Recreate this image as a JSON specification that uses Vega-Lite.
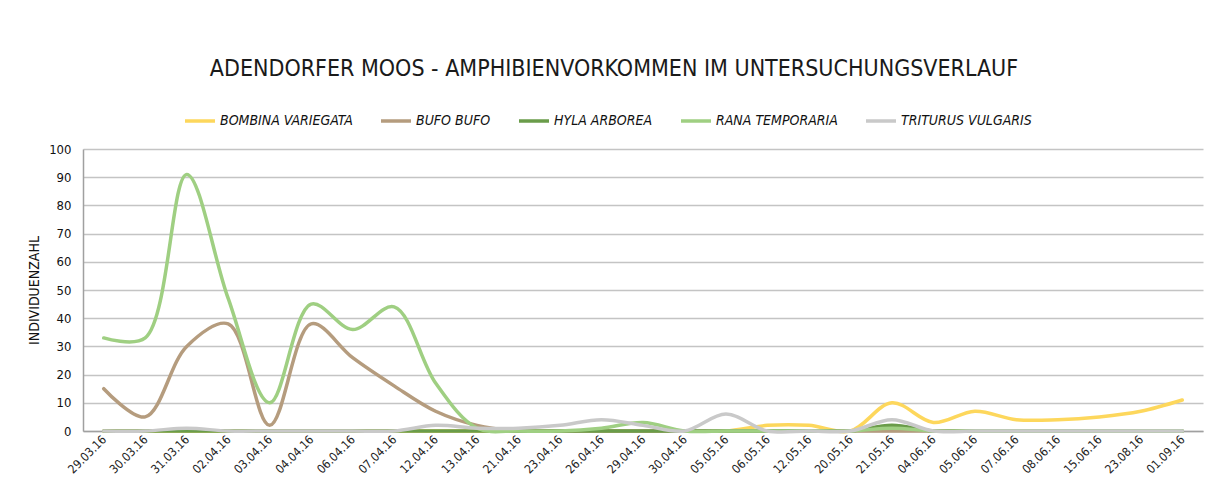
{
  "$schema": "https://vega.github.io/schema/vega-lite/v6.json",
  "autosize": {"type": "none"},
  "width": 1120,
  "height": 282,
  "padding": {"left": 83, "top": 149, "right": 11, "bottom": 57},
  "background": "white",
  "title": {
    "text": "ADENDORFER MOOS - AMPHIBIENVORKOMMEN IM UNTERSUCHUNGSVERLAUF",
    "font": "DejaVu Sans Condensed, Liberation Sans",
    "fontSize": 23,
    "fontWeight": "normal",
    "color": "#1a1a1a",
    "anchor": "middle",
    "dx": -29,
    "offset": 23
  },
  "data": {
    "values": [
      {"d":"29.03.16","i":1,"s":"BOMBINA VARIEGATA","v":0},{"d":"29.03.16","i":1,"s":"BUFO BUFO","v":15},{"d":"29.03.16","i":1,"s":"HYLA ARBOREA","v":0},{"d":"29.03.16","i":1,"s":"RANA TEMPORARIA","v":33},{"d":"29.03.16","i":1,"s":"TRITURUS VULGARIS","v":0},
      {"d":"30.03.16","i":2,"s":"BOMBINA VARIEGATA","v":0},{"d":"30.03.16","i":2,"s":"BUFO BUFO","v":5},{"d":"30.03.16","i":2,"s":"HYLA ARBOREA","v":0},{"d":"30.03.16","i":2,"s":"RANA TEMPORARIA","v":33},{"d":"30.03.16","i":2,"s":"TRITURUS VULGARIS","v":0},
      {"d":"31.03.16","i":3,"s":"BOMBINA VARIEGATA","v":0},{"d":"31.03.16","i":3,"s":"BUFO BUFO","v":30},{"d":"31.03.16","i":3,"s":"HYLA ARBOREA","v":0},{"d":"31.03.16","i":3,"s":"RANA TEMPORARIA","v":91},{"d":"31.03.16","i":3,"s":"TRITURUS VULGARIS","v":1},
      {"d":"02.04.16","i":4,"s":"BOMBINA VARIEGATA","v":0},{"d":"02.04.16","i":4,"s":"BUFO BUFO","v":38},{"d":"02.04.16","i":4,"s":"HYLA ARBOREA","v":0},{"d":"02.04.16","i":4,"s":"RANA TEMPORARIA","v":47},{"d":"02.04.16","i":4,"s":"TRITURUS VULGARIS","v":0},
      {"d":"03.04.16","i":5,"s":"BOMBINA VARIEGATA","v":0},{"d":"03.04.16","i":5,"s":"BUFO BUFO","v":2},{"d":"03.04.16","i":5,"s":"HYLA ARBOREA","v":0},{"d":"03.04.16","i":5,"s":"RANA TEMPORARIA","v":10},{"d":"03.04.16","i":5,"s":"TRITURUS VULGARIS","v":0},
      {"d":"04.04.16","i":6,"s":"BOMBINA VARIEGATA","v":0},{"d":"04.04.16","i":6,"s":"BUFO BUFO","v":38},{"d":"04.04.16","i":6,"s":"HYLA ARBOREA","v":0},{"d":"04.04.16","i":6,"s":"RANA TEMPORARIA","v":45},{"d":"04.04.16","i":6,"s":"TRITURUS VULGARIS","v":0},
      {"d":"06.04.16","i":7,"s":"BOMBINA VARIEGATA","v":0},{"d":"06.04.16","i":7,"s":"BUFO BUFO","v":26},{"d":"06.04.16","i":7,"s":"HYLA ARBOREA","v":0},{"d":"06.04.16","i":7,"s":"RANA TEMPORARIA","v":36},{"d":"06.04.16","i":7,"s":"TRITURUS VULGARIS","v":0},
      {"d":"07.04.16","i":8,"s":"BOMBINA VARIEGATA","v":0},{"d":"07.04.16","i":8,"s":"BUFO BUFO","v":16},{"d":"07.04.16","i":8,"s":"HYLA ARBOREA","v":0},{"d":"07.04.16","i":8,"s":"RANA TEMPORARIA","v":44},{"d":"07.04.16","i":8,"s":"TRITURUS VULGARIS","v":0},
      {"d":"12.04.16","i":9,"s":"BOMBINA VARIEGATA","v":0},{"d":"12.04.16","i":9,"s":"BUFO BUFO","v":7},{"d":"12.04.16","i":9,"s":"HYLA ARBOREA","v":0},{"d":"12.04.16","i":9,"s":"RANA TEMPORARIA","v":17},{"d":"12.04.16","i":9,"s":"TRITURUS VULGARIS","v":2},
      {"d":"13.04.16","i":10,"s":"BOMBINA VARIEGATA","v":0},{"d":"13.04.16","i":10,"s":"BUFO BUFO","v":2},{"d":"13.04.16","i":10,"s":"HYLA ARBOREA","v":0},{"d":"13.04.16","i":10,"s":"RANA TEMPORARIA","v":1},{"d":"13.04.16","i":10,"s":"TRITURUS VULGARIS","v":1},
      {"d":"21.04.16","i":11,"s":"BOMBINA VARIEGATA","v":0},{"d":"21.04.16","i":11,"s":"BUFO BUFO","v":0},{"d":"21.04.16","i":11,"s":"HYLA ARBOREA","v":0},{"d":"21.04.16","i":11,"s":"RANA TEMPORARIA","v":0},{"d":"21.04.16","i":11,"s":"TRITURUS VULGARIS","v":1},
      {"d":"23.04.16","i":12,"s":"BOMBINA VARIEGATA","v":0},{"d":"23.04.16","i":12,"s":"BUFO BUFO","v":0},{"d":"23.04.16","i":12,"s":"HYLA ARBOREA","v":0},{"d":"23.04.16","i":12,"s":"RANA TEMPORARIA","v":0},{"d":"23.04.16","i":12,"s":"TRITURUS VULGARIS","v":2},
      {"d":"26.04.16","i":13,"s":"BOMBINA VARIEGATA","v":0},{"d":"26.04.16","i":13,"s":"BUFO BUFO","v":0},{"d":"26.04.16","i":13,"s":"HYLA ARBOREA","v":0},{"d":"26.04.16","i":13,"s":"RANA TEMPORARIA","v":1},{"d":"26.04.16","i":13,"s":"TRITURUS VULGARIS","v":4},
      {"d":"29.04.16","i":14,"s":"BOMBINA VARIEGATA","v":0},{"d":"29.04.16","i":14,"s":"BUFO BUFO","v":0},{"d":"29.04.16","i":14,"s":"HYLA ARBOREA","v":0},{"d":"29.04.16","i":14,"s":"RANA TEMPORARIA","v":3},{"d":"29.04.16","i":14,"s":"TRITURUS VULGARIS","v":2},
      {"d":"30.04.16","i":15,"s":"BOMBINA VARIEGATA","v":0},{"d":"30.04.16","i":15,"s":"BUFO BUFO","v":0},{"d":"30.04.16","i":15,"s":"HYLA ARBOREA","v":0},{"d":"30.04.16","i":15,"s":"RANA TEMPORARIA","v":0},{"d":"30.04.16","i":15,"s":"TRITURUS VULGARIS","v":0},
      {"d":"05.05.16","i":16,"s":"BOMBINA VARIEGATA","v":0},{"d":"05.05.16","i":16,"s":"BUFO BUFO","v":0},{"d":"05.05.16","i":16,"s":"HYLA ARBOREA","v":0},{"d":"05.05.16","i":16,"s":"RANA TEMPORARIA","v":0},{"d":"05.05.16","i":16,"s":"TRITURUS VULGARIS","v":6},
      {"d":"06.05.16","i":17,"s":"BOMBINA VARIEGATA","v":2},{"d":"06.05.16","i":17,"s":"BUFO BUFO","v":0},{"d":"06.05.16","i":17,"s":"HYLA ARBOREA","v":0},{"d":"06.05.16","i":17,"s":"RANA TEMPORARIA","v":0},{"d":"06.05.16","i":17,"s":"TRITURUS VULGARIS","v":0},
      {"d":"12.05.16","i":18,"s":"BOMBINA VARIEGATA","v":2},{"d":"12.05.16","i":18,"s":"BUFO BUFO","v":0},{"d":"12.05.16","i":18,"s":"HYLA ARBOREA","v":0},{"d":"12.05.16","i":18,"s":"RANA TEMPORARIA","v":0},{"d":"12.05.16","i":18,"s":"TRITURUS VULGARIS","v":0},
      {"d":"20.05.16","i":19,"s":"BOMBINA VARIEGATA","v":0},{"d":"20.05.16","i":19,"s":"BUFO BUFO","v":0},{"d":"20.05.16","i":19,"s":"HYLA ARBOREA","v":0},{"d":"20.05.16","i":19,"s":"RANA TEMPORARIA","v":0},{"d":"20.05.16","i":19,"s":"TRITURUS VULGARIS","v":0},
      {"d":"21.05.16","i":20,"s":"BOMBINA VARIEGATA","v":10},{"d":"21.05.16","i":20,"s":"BUFO BUFO","v":0},{"d":"21.05.16","i":20,"s":"HYLA ARBOREA","v":2},{"d":"21.05.16","i":20,"s":"RANA TEMPORARIA","v":1},{"d":"21.05.16","i":20,"s":"TRITURUS VULGARIS","v":4},
      {"d":"04.06.16","i":21,"s":"BOMBINA VARIEGATA","v":3},{"d":"04.06.16","i":21,"s":"BUFO BUFO","v":0},{"d":"04.06.16","i":21,"s":"HYLA ARBOREA","v":0},{"d":"04.06.16","i":21,"s":"RANA TEMPORARIA","v":0},{"d":"04.06.16","i":21,"s":"TRITURUS VULGARIS","v":0},
      {"d":"05.06.16","i":22,"s":"BOMBINA VARIEGATA","v":7},{"d":"05.06.16","i":22,"s":"BUFO BUFO","v":0},{"d":"05.06.16","i":22,"s":"HYLA ARBOREA","v":0},{"d":"05.06.16","i":22,"s":"RANA TEMPORARIA","v":0},{"d":"05.06.16","i":22,"s":"TRITURUS VULGARIS","v":0},
      {"d":"07.06.16","i":23,"s":"BOMBINA VARIEGATA","v":4},{"d":"07.06.16","i":23,"s":"BUFO BUFO","v":0},{"d":"07.06.16","i":23,"s":"HYLA ARBOREA","v":0},{"d":"07.06.16","i":23,"s":"RANA TEMPORARIA","v":0},{"d":"07.06.16","i":23,"s":"TRITURUS VULGARIS","v":0},
      {"d":"08.06.16","i":24,"s":"BOMBINA VARIEGATA","v":4},{"d":"08.06.16","i":24,"s":"BUFO BUFO","v":0},{"d":"08.06.16","i":24,"s":"HYLA ARBOREA","v":0},{"d":"08.06.16","i":24,"s":"RANA TEMPORARIA","v":0},{"d":"08.06.16","i":24,"s":"TRITURUS VULGARIS","v":0},
      {"d":"15.06.16","i":25,"s":"BOMBINA VARIEGATA","v":5},{"d":"15.06.16","i":25,"s":"BUFO BUFO","v":0},{"d":"15.06.16","i":25,"s":"HYLA ARBOREA","v":0},{"d":"15.06.16","i":25,"s":"RANA TEMPORARIA","v":0},{"d":"15.06.16","i":25,"s":"TRITURUS VULGARIS","v":0},
      {"d":"23.08.16","i":26,"s":"BOMBINA VARIEGATA","v":7},{"d":"23.08.16","i":26,"s":"BUFO BUFO","v":0},{"d":"23.08.16","i":26,"s":"HYLA ARBOREA","v":0},{"d":"23.08.16","i":26,"s":"RANA TEMPORARIA","v":0},{"d":"23.08.16","i":26,"s":"TRITURUS VULGARIS","v":0},
      {"d":"01.09.16","i":27,"s":"BOMBINA VARIEGATA","v":11},{"d":"01.09.16","i":27,"s":"BUFO BUFO","v":0},{"d":"01.09.16","i":27,"s":"HYLA ARBOREA","v":0},{"d":"01.09.16","i":27,"s":"RANA TEMPORARIA","v":0},{"d":"01.09.16","i":27,"s":"TRITURUS VULGARIS","v":0}
    ]
  },
  "mark": {"type": "line", "interpolate": "catmull-rom", "strokeWidth": 3.5, "strokeCap": "round"},
  "encoding": {
    "x": {
      "field": "d",
      "type": "ordinal",
      "sort": {"field": "i"},
      "scale": {"type": "point", "padding": 0.5},
      "axis": {
        "title": null,
        "labelAngle": -45,
        "labelAlign": "right",
        "labelBaseline": "middle",
        "labelFont": "DejaVu Sans Condensed, Liberation Sans",
        "labelFontSize": 12,
        "labelColor": "#222",
        "labelPadding": 6,
        "ticks": false,
        "domain": true,
        "domainColor": "#a0a0a0",
        "domainWidth": 1.5,
        "grid": false
      }
    },
    "y": {
      "field": "v",
      "type": "quantitative",
      "scale": {"domain": [0, 100], "nice": false, "zero": true},
      "axis": {
        "title": "INDIVIDUENZAHL",
        "titleFont": "DejaVu Sans Condensed, Liberation Sans",
        "titleFontSize": 14,
        "titleFontWeight": "normal",
        "titleColor": "#111",
        "titlePadding": 7,
        "values": [0,10,20,30,40,50,60,70,80,90,100],
        "labelFont": "DejaVu Sans Condensed, Liberation Sans",
        "labelFontSize": 13,
        "labelColor": "#111",
        "labelPadding": 12,
        "ticks": false,
        "domain": true,
        "domainColor": "#a0a0a0",
        "domainWidth": 1.5,
        "grid": true,
        "gridColor": "#c4c4c4",
        "gridWidth": 1.5
      }
    },
    "color": {
      "field": "s",
      "type": "nominal",
      "scale": {
        "domain": ["BOMBINA VARIEGATA","BUFO BUFO","HYLA ARBOREA","RANA TEMPORARIA","TRITURUS VULGARIS"],
        "range": ["#fdd75c","#b59c7e","#6a9c4a","#9fcf82","#c9c9c9"]
      },
      "legend": {
        "title": null,
        "orient": "none",
        "direction": "horizontal",
        "legendX": 100,
        "legendY": -45,
        "symbolType": "stroke",
        "symbolSize": 900,
        "symbolStrokeWidth": 3.5,
        "labelFont": "DejaVu Sans Condensed, Liberation Sans",
        "labelFontSize": 14,
        "labelFontStyle": "italic",
        "labelColor": "#111",
        "labelOffset": 3,
        "columnPadding": 21
      }
    }
  },
  "config": {
    "view": {"stroke": null}
  }
}
